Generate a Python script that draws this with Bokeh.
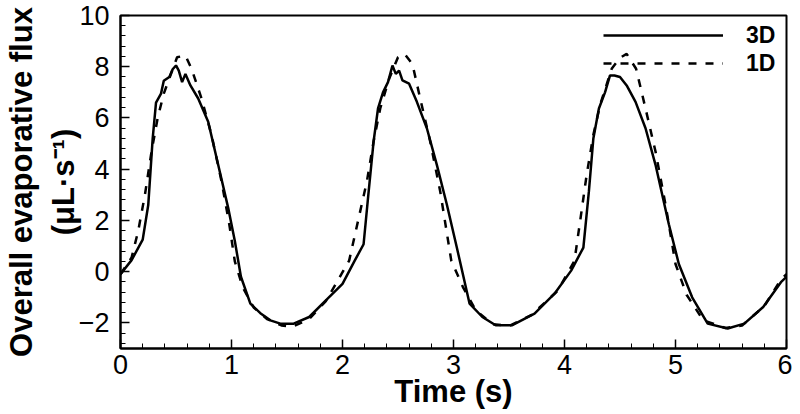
from bokeh.plotting import figure
from bokeh.models import SingleIntervalTicker, Range1d, Legend, LegendItem
from bokeh.embed import file_html
from bokeh.resources import INLINE

# 3D simulation
t_3d = [0.0, 0.1, 0.2, 0.25, 0.29, 0.32, 0.365, 0.39, 0.44, 0.47, 0.5, 0.525, 0.555, 0.585,
        0.63, 0.70, 0.79, 0.88, 0.97, 1.03, 1.085, 1.17, 1.26, 1.35, 1.44, 1.56, 1.70, 1.85,
        2.0, 2.11, 2.19, 2.23, 2.28, 2.32, 2.365, 2.41, 2.45, 2.48, 2.51, 2.54, 2.60, 2.67,
        2.76, 2.85, 2.94, 3.03, 3.145, 3.26, 3.38, 3.53, 3.73, 3.91, 4.06, 4.17, 4.22, 4.26,
        4.31, 4.365, 4.41, 4.45, 4.50, 4.56, 4.64, 4.73, 4.82, 4.94, 5.03, 5.15, 5.29, 5.47,
        5.62, 5.79, 5.95, 6.0]
flux_3d = [-0.1, 0.45, 1.25, 2.6, 5.2, 6.6, 6.95, 7.45, 7.6, 7.9, 8.05, 7.85, 7.4, 7.72,
           7.27, 6.76, 5.85, 4.17, 2.49, 1.2, -0.2, -1.25, -1.62, -1.9, -2.03, -2.03, -1.77, -1.12,
           -0.48, 0.43, 1.07, 2.88, 5.08, 6.37, 7.0, 7.4, 8.05, 7.72, 7.85, 7.47, 7.34, 6.63,
           5.6, 4.17, 2.62, 0.94, -1.25, -1.77, -2.09, -2.09, -1.64, -0.86, 0.04, 0.94, 3.14, 5.2,
           6.37, 7.0, 7.66, 7.66, 7.6, 7.27, 6.63, 5.6, 4.17, 1.85, 0.3, -1.0, -2.03, -2.22,
           -2.03, -1.38, -0.41, -0.2]

# 1D model
t_1d = [0.0, 0.1, 0.16, 0.22, 0.28, 0.335, 0.39, 0.47, 0.51, 0.585, 0.64, 0.73, 0.82, 0.91,
        0.98, 1.03, 1.10, 1.20, 1.32, 1.45, 1.55, 1.70, 1.85, 1.94, 2.06, 2.14, 2.22, 2.28,
        2.34, 2.42, 2.50, 2.56, 2.63, 2.70, 2.79, 2.88, 2.98, 3.085, 3.2, 3.35, 3.5, 3.7,
        3.94, 4.09, 4.145, 4.20, 4.26, 4.32, 4.425, 4.50, 4.56, 4.645, 4.73, 4.82, 4.91, 5.0,
        5.1, 5.25, 5.45, 5.6, 5.8, 5.95, 6.0]
flux_1d = [-0.1, 0.55, 1.6, 3.0, 4.7, 6.0, 6.95, 7.9, 8.37, 8.44, 7.92, 6.76, 5.34, 3.53,
           1.85, 0.4, -0.6, -1.4, -1.85, -2.1, -2.15, -1.85, -1.15, -0.48, 0.43, 1.98, 3.53, 5.08,
           6.37, 7.53, 8.37, 8.5, 8.1, 6.76, 5.08, 3.14, 0.43, -0.6, -1.5, -2.05, -2.12, -1.7,
           -0.74, 0.43, 2.1, 3.79, 5.34, 6.5, 7.92, 8.35, 8.5, 7.92, 6.37, 4.69, 2.62, 0.3,
           -0.9, -1.9, -2.2, -2.1, -1.35, -0.3, -0.1]

series_labels = ["3D", "1D"]
x_title = "Time (s)"
y_title = "Overall evaporative flux\n(\u03bcL\u00b7s\u207b\u00b9)"

FONT = "Liberation Sans"

p = figure(width=792, height=414, output_backend="svg", toolbar_location=None,
           x_range=Range1d(0, 6), y_range=Range1d(-3, 10),
           min_border_left=117, min_border_right=6, min_border_top=15, min_border_bottom=66)
p.background_fill_color = "white"
p.border_fill_color = "white"
p.grid.visible = False
p.outline_line_color = "black"
p.outline_line_width = 2

r3 = p.line(t_3d, flux_3d, line_color="black", line_width=2.5)
r1 = p.line(t_1d, flux_1d, line_color="black", line_width=2.5, line_dash="8 9")

p.xaxis.ticker = SingleIntervalTicker(interval=1, num_minor_ticks=5)
p.yaxis.ticker = SingleIntervalTicker(interval=2, num_minor_ticks=5)

for ax in (p.xaxis[0], p.yaxis[0]):
    ax.axis_line_color = "black"
    ax.axis_line_width = 2
    ax.major_tick_in = 9
    ax.major_tick_out = 0
    ax.minor_tick_in = 5
    ax.minor_tick_out = 0
    ax.major_tick_line_width = 1.5
    ax.minor_tick_line_width = 1
    ax.major_tick_line_color = "black"
    ax.minor_tick_line_color = "black"
    ax.major_label_text_font = FONT
    ax.major_label_text_font_size = "27px"
    ax.major_label_text_color = "black"
    ax.axis_label_text_font = FONT
    ax.axis_label_text_font_style = "bold"
    ax.axis_label_text_font_size = "31px"
    ax.axis_label_text_color = "black"

p.xaxis.axis_label = x_title
p.xaxis.major_label_standoff = 6
p.xaxis.axis_label_standoff = -3
p.yaxis.axis_label = y_title
p.yaxis.major_label_standoff = 11
p.yaxis.axis_label_standoff = -5


def make_legend(label, renderer, row_height):
    return Legend(items=[LegendItem(label=label, renderers=[renderer])],
                  location="top_right", glyph_width=120, glyph_height=row_height,
                  label_text_font=FONT, label_text_font_style="bold",
                  label_text_font_size="23px", label_text_color="black",
                  label_standoff=23, label_height=row_height, label_width=40,
                  spacing=0, padding=2, margin=0,
                  border_line_color=None, background_fill_alpha=0)


p.add_layout(make_legend(series_labels[0], r3, 40))
p.add_layout(make_legend(series_labels[1], r1, 96))

open("out.html", "w").write(file_html(p, INLINE))
